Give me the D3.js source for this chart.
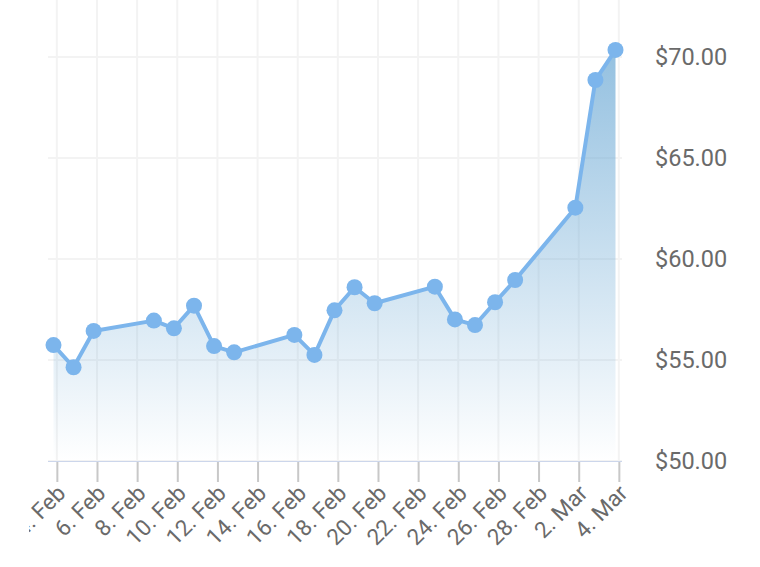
<!DOCTYPE html>
<html>
<head>
<meta charset="utf-8">
<script src="https://cdn.jsdelivr.net/npm/d3@7"></script>
<style>
    html, body { margin: 0; padding: 0; background: #fff; }
    #chart text { font-family: Roboto, "Noto Sans", sans-serif; fill: #6a6a6a; }
</style>
</head>
<body>
<div id="chart"></div>
<script>
/* global d3 */

// trading days, Feb - Mar 2015
var dates = ["2015-02-04", "2015-02-05", "2015-02-06", "2015-02-09", "2015-02-10", "2015-02-11",
             "2015-02-12", "2015-02-13", "2015-02-16", "2015-02-17", "2015-02-18", "2015-02-19",
             "2015-02-20", "2015-02-23", "2015-02-24", "2015-02-25", "2015-02-26", "2015-02-27",
             "2015-03-02", "2015-03-03", "2015-03-04"];
var prices = [55.74, 54.64, 56.44, 56.95, 56.57, 57.69,
              55.69, 55.38, 56.24, 55.25, 57.46, 58.60,
              57.81, 58.63, 57.01, 56.73, 57.86, 58.96,
              62.54, 68.86, 70.35];
var priceTicks = [50, 55, 60, 65, 70];
var dateTicks = ["2015-02-04", "2015-02-06", "2015-02-08", "2015-02-10", "2015-02-12", "2015-02-14",
                 "2015-02-16", "2015-02-18", "2015-02-20", "2015-02-22", "2015-02-24", "2015-02-26",
                 "2015-02-28", "2015-03-02", "2015-03-04"];

var Chart = (function () {
    "use strict";

    const width = 760,
          height = 567,
          plotLeft = 48,
          plotRight = 622,
          plotBottom = 461,
          tzHours = 4, // ticks sit at local midnight, points at UTC midnight
          lineColor = "#7cb5ec";
    var svg, x, y, data;

    function init() {
        data = dates.map(function (d, i) {
            return {date: new Date(d + "T00:00:00Z"), value: prices[i]};
        });
        x = d3.scaleUtc()
            .domain([new Date("2015-02-04T00:00:00Z"), new Date("2015-03-04T00:00:00Z")])
            .range([53.5, 615.5]);
        y = d3.scaleLinear()
            .domain([50, 70])
            .range([plotBottom, 57]);
        createSvg();
        drawGrid();
        drawArea();
        drawAxes();
        drawLine();
    }

    function createSvg() {
        svg = d3.select("#chart")
            .append("svg")
            .attr("width", width)
            .attr("height", height);
        var defs = svg.append("defs");
        var grad = defs.append("linearGradient")
            .attr("id", "areaFill")
            .attr("x1", 0).attr("y1", 0)
            .attr("x2", 0).attr("y2", 1);
        grad.append("stop").attr("offset", "0%")
            .attr("stop-color", "#6aa8d4").attr("stop-opacity", 0.72);
        grad.append("stop").attr("offset", "100%")
            .attr("stop-color", "#6aa8d4").attr("stop-opacity", 0);
        defs.append("clipPath").attr("id", "labelClip")
            .append("rect")
            .attr("x", 29).attr("y", 0)
            .attr("width", width - 29).attr("height", height);
    }

    function tickDate(d) {
        return new Date(new Date(d + "T00:00:00Z").getTime() + tzHours * 3600 * 1000);
    }

    function drawGrid() {
        var grid = svg.append("g").classed("grid", true);
        grid.selectAll("line.v")
            .data(dateTicks)
            .enter().append("line")
            .attr("class", "v")
            .attr("x1", function (d) { return x(tickDate(d)); })
            .attr("x2", function (d) { return x(tickDate(d)); })
            .attr("y1", 0)
            .attr("y2", plotBottom)
            .attr("stroke", "#f3f3f3")
            .attr("stroke-width", 2);
        grid.selectAll("line.h")
            .data(priceTicks)
            .enter().append("line")
            .attr("class", "h")
            .attr("x1", plotLeft)
            .attr("x2", plotRight)
            .attr("y1", function (d) { return y(d); })
            .attr("y2", function (d) { return y(d); })
            .attr("stroke", "#f3f3f3")
            .attr("stroke-width", 2);
    }

    function drawArea() {
        var area = d3.area()
            .x(function (d) { return x(d.date); })
            .y0(y(50))
            .y1(function (d) { return y(d.value); });
        svg.append("path")
            .datum(data)
            .attr("d", area)
            .attr("fill", "url(#areaFill)");
    }

    function drawAxes() {
        var xAxis = d3.axisBottom(x)
            .tickValues(dateTicks.map(tickDate))
            .tickSize(21)
            .tickFormat(function (d) {
                return d3.utcFormat("%-d. %b")(new Date(d.getTime() - tzHours * 3600 * 1000));
            });
        var gx = svg.append("g")
            .attr("transform", "translate(0," + plotBottom + ")")
            .call(xAxis);
        gx.select(".domain").remove();
        gx.append("line")
            .attr("x1", plotLeft).attr("x2", plotRight)
            .attr("stroke", "#ccd6eb")
            .attr("stroke-width", 2);
        gx.selectAll(".tick line")
            .attr("stroke", "#c8c8c8")
            .attr("stroke-width", 2);
        gx.selectAll(".tick text")
            .style("font-size", "22.5px")
            .attr("text-anchor", "end")
            .attr("transform", "translate(4,28) rotate(-45)")
            .attr("y", 0)
            .attr("dy", "0.35em");
        gx.attr("clip-path", "url(#labelClip)");

        var yAxis = svg.append("g").classed("yaxis", true);
        yAxis.selectAll("text")
            .data(priceTicks)
            .enter().append("text")
            .attr("x", 655)
            .attr("y", function (d) { return y(d); })
            .attr("dy", "0.36em")
            .style("font-size", "23.5px")
            .text(function (d) { return "$" + d3.format(".2f")(d); });
    }

    function drawLine() {
        var line = d3.line()
            .x(function (d) { return x(d.date); })
            .y(function (d) { return y(d.value); });
        svg.append("path")
            .datum(data)
            .attr("d", line)
            .attr("fill", "none")
            .attr("stroke", lineColor)
            .attr("stroke-width", 4)
            .attr("stroke-linejoin", "round");
        svg.append("g").selectAll("circle")
            .data(data)
            .enter().append("circle")
            .attr("cx", function (d) { return x(d.date); })
            .attr("cy", function (d) { return y(d.value); })
            .attr("r", 8)
            .attr("fill", lineColor);
    }

    return {init: init};
}());

Chart.init();
</script>
</body>
</html>
